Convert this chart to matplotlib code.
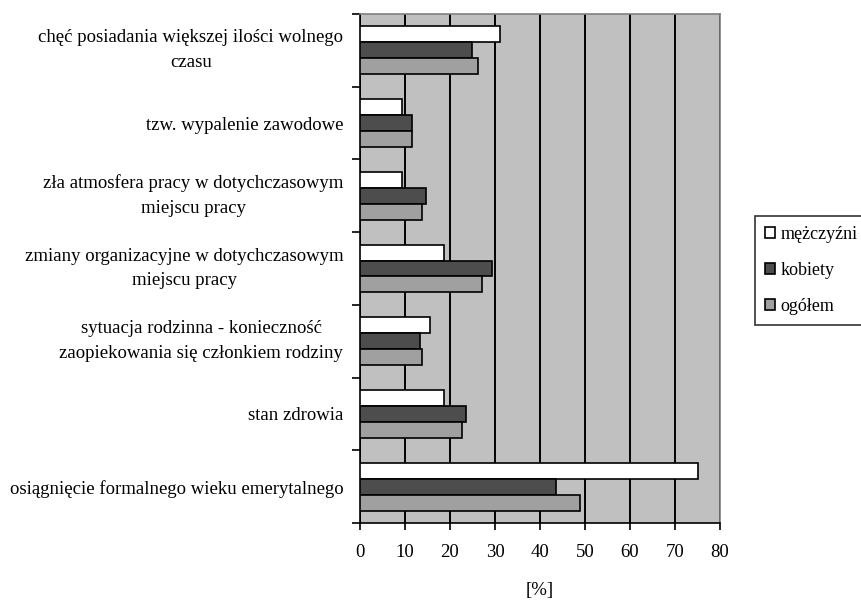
import numpy as np
import matplotlib
matplotlib.use("Agg")
import matplotlib.pyplot as plt
from matplotlib.patches import Patch

plt.rcParams['font.family'] = ['Liberation Serif', 'DejaVu Serif']
plt.rcParams['font.size'] = 13.5

categories = [
    "chęć posiadania większej ilości wolnego\nczasu",
    "tzw. wypalenie zawodowe",
    "zła atmosfera pracy w dotychczasowym\nmiejscu pracy",
    "zmiany organizacyjne w dotychczasowym\nmiejscu pracy",
    "sytuacja rodzinna - konieczność\nzaopiekowania się członkiem rodziny",
    "stan zdrowia",
    "osiągnięcie formalnego wieku emerytalnego",
]
series_names = ["mężczyźni", "kobiety", "ogółem"]
mezczyzni = [31.1, 9.3, 9.3, 18.7, 15.6, 18.7, 75.1]
kobiety = [24.9, 11.5, 14.7, 29.4, 13.3, 23.6, 43.6]
ogolem = [26.2, 11.6, 13.8, 27.2, 13.8, 22.7, 48.9]
x_ticks = [0, 10, 20, 30, 40, 50, 60, 70, 80]

colors = ["#FFFFFF", "#4D4D4D", "#A0A0A0"]

fig = plt.figure(figsize=(8.62, 6.02), dpi=100)
ax = fig.add_axes([360 / 862, 1 - 523 / 602, 360 / 862, 509 / 602])
ax.set_facecolor("#C0C0C0")

y = np.arange(len(categories))
h = 0.22
for k, vals in enumerate([mezczyzni, kobiety, ogolem]):
    ax.barh(y + (k - 1) * h, vals, height=h, color=colors[k],
            edgecolor="black", linewidth=1.2, zorder=3)

ax.set_xlim(0, 80)
ax.set_ylim(len(categories) - 0.5, -0.5)
ax.set_xticks(x_ticks)
ax.xaxis.grid(True, color="black", linewidth=1.4, zorder=1)
ax.set_axisbelow(True)

ax.set_yticks(y)
ax.set_yticklabels(categories)
ax.set_yticks(np.arange(len(categories) + 1) - 0.5, minor=True)
ax.tick_params(axis="y", which="major", length=0, pad=12)
ax.tick_params(axis="y", which="minor", length=6, width=1.2, direction="out")
ax.tick_params(axis="x", length=5, width=1.2, direction="out", pad=10)
for t in ax.get_yticklabels():
    t.set_multialignment("center")
    t.set_linespacing(1.6)
    if "\n" in t.get_text():
        t.set_verticalalignment("center")

for s in ["left", "bottom"]:
    ax.spines[s].set_color("black")
    ax.spines[s].set_linewidth(1.2)
for s in ["top", "right"]:
    ax.spines[s].set_color("#808080")
    ax.spines[s].set_linewidth(1.2)

ax.set_xlabel("[%]", labelpad=15)

handles = [Patch(facecolor=c, edgecolor="black", linewidth=1.2) for c in colors]
leg = fig.legend(handles, series_names, loc="upper left",
                 bbox_to_anchor=(755 / 862, 1 - 216 / 602),
                 frameon=True, fancybox=False, edgecolor="black",
                 fontsize=13,
                 handlelength=0.55, handleheight=0.55, handletextpad=0.3,
                 labelspacing=1.05, borderpad=0.55, borderaxespad=0)
leg.get_frame().set_linewidth(1.2)

fig.savefig("out.png", dpi=100)
